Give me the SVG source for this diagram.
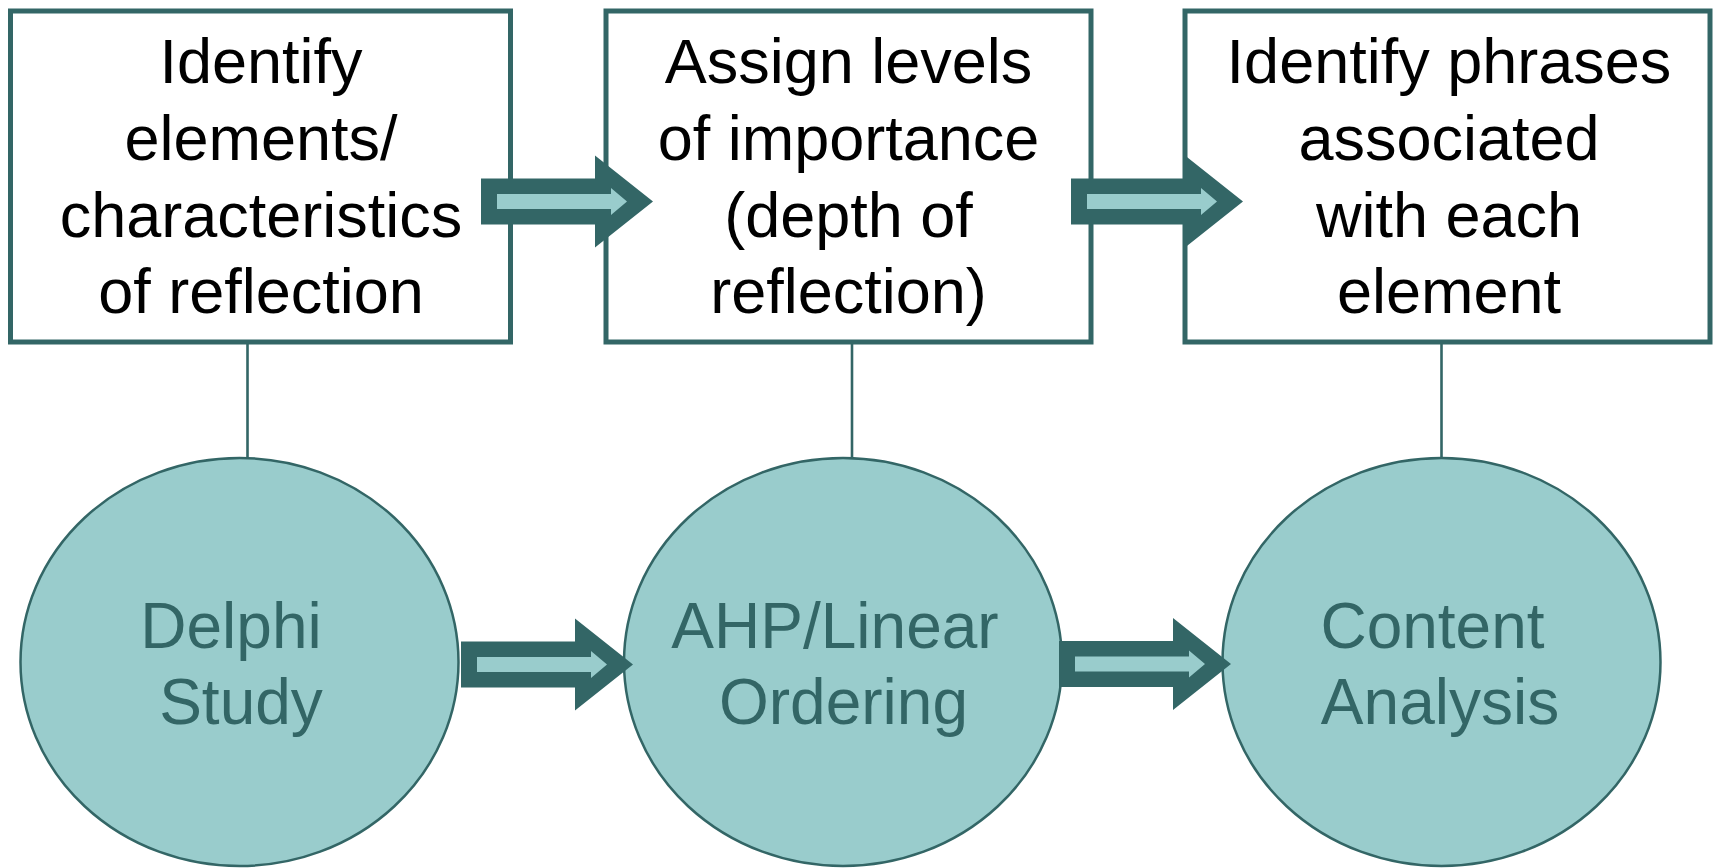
<svg xmlns="http://www.w3.org/2000/svg" xmlns:xlink="http://www.w3.org/1999/xlink" width="1715" height="868" viewBox="0 0 1715 868">
<style>
.box{fill:#ffffff;stroke:#336666;stroke-width:5}
.oval{fill:#99CCCC;stroke:#336666;stroke-width:2.5}
.btxt{font-family:"Liberation Sans",Arial,sans-serif;font-size:63px;fill:#000000;text-anchor:middle}
.otxt{font-family:"Liberation Sans",Arial,sans-serif;font-size:64px;fill:#336666;text-anchor:middle}
.link{stroke:#336666;stroke-width:2.6;fill:none}
.adark{fill:#336666}
.alight{fill:#99CCCC}
</style>
<defs>
<g id="bigArrow">
<polygon class="adark" points="0,-23 114,-23 114,-46 172,0 114,46 114,23 0,23"/>
<polygon class="alight" points="16,-7.5 130,-7.5 130,-13.5 146,0 130,13.5 130,7.5 16,7.5"/>
</g>
</defs>
<rect width="1715" height="868" fill="#ffffff"/>
<g id="connectors-lines">
<line class="link" x1="247.5" y1="342" x2="247.5" y2="459"/>
<line class="link" x1="852" y1="342" x2="852" y2="459"/>
<line class="link" x1="1441.5" y1="342" x2="1441.5" y2="459"/>
</g>
<g id="box1">
<rect class="box" x="10.5" y="11" width="500" height="331"/>
<text class="btxt"><tspan x="261" y="83">Identify</tspan><tspan x="261" y="160">elements/</tspan><tspan x="261" y="237">characteristics</tspan><tspan x="261" y="313">of reflection</tspan></text>
</g>
<g id="box2">
<rect class="box" x="606" y="11" width="485" height="331"/>
<text class="btxt"><tspan x="848.5" y="83">Assign levels</tspan><tspan x="848.5" y="160">of importance</tspan><tspan x="848.5" y="237">(depth of</tspan><tspan x="848.5" y="313">reflection)</tspan></text>
</g>
<g id="box3">
<rect class="box" x="1185" y="11" width="525" height="331"/>
<text class="btxt"><tspan x="1449" y="83">Identify phrases</tspan><tspan x="1449" y="160">associated</tspan><tspan x="1449" y="237">with each</tspan><tspan x="1449" y="313">element</tspan></text>
</g>
<g id="oval1">
<ellipse class="oval" cx="239.5" cy="662" rx="219" ry="204"/>
<text class="otxt"><tspan x="231" y="648">Delphi</tspan><tspan x="241" y="724">Study</tspan></text>
</g>
<g id="oval2">
<ellipse class="oval" cx="843" cy="662" rx="219" ry="204"/>
<text class="otxt"><tspan x="835" y="648">AHP/Linear</tspan><tspan x="843.5" y="724">Ordering</tspan></text>
</g>
<g id="oval3">
<ellipse class="oval" cx="1441.5" cy="662" rx="219" ry="204"/>
<text class="otxt"><tspan x="1432.5" y="648">Content</tspan><tspan x="1440" y="724">Analysis</tspan></text>
</g>
<g id="connectors">
<use xlink:href="#bigArrow" href="#bigArrow" transform="translate(481,201.5)"/>
<use xlink:href="#bigArrow" href="#bigArrow" transform="translate(1071,201.5)"/>
<use xlink:href="#bigArrow" href="#bigArrow" transform="translate(461,664.5)"/>
<use xlink:href="#bigArrow" href="#bigArrow" transform="translate(1059,664)"/>
</g>
</svg>
